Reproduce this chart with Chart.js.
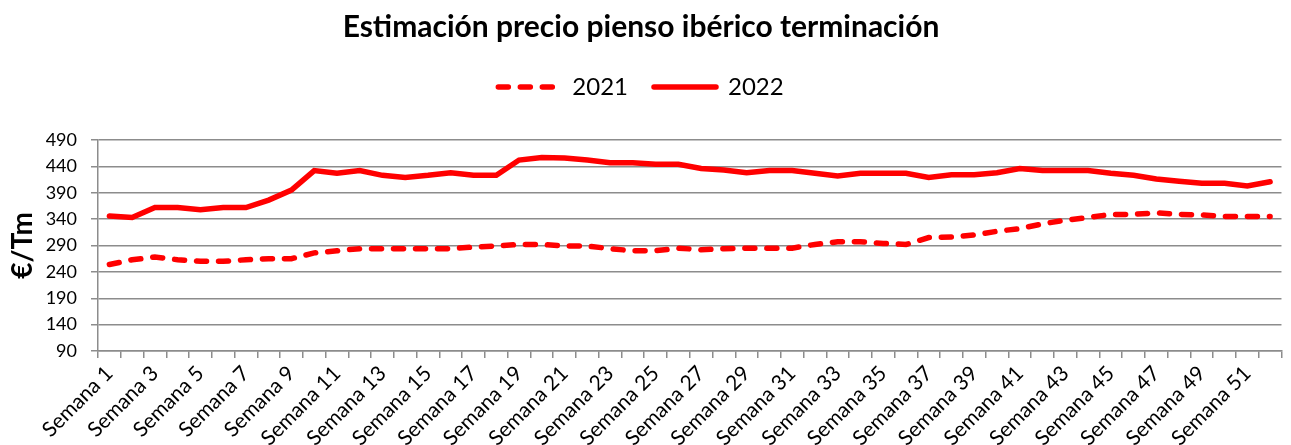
<!DOCTYPE html>
<html>
<head>
<meta charset="utf-8">
<script src="https://cdn.jsdelivr.net/npm/chart.js@4"></script>
<style>
  html, body { margin: 0; padding: 0; background: #fff; }
  #wrap { width: 1291px; height: 445px; }
</style>
</head>
<body>
<div id="wrap"><canvas id="chart"></canvas></div>
<script>
const weeks = ['Semana 1','Semana 2','Semana 3','Semana 4','Semana 5','Semana 6','Semana 7','Semana 8','Semana 9','Semana 10',
  'Semana 11','Semana 12','Semana 13','Semana 14','Semana 15','Semana 16','Semana 17','Semana 18','Semana 19','Semana 20',
  'Semana 21','Semana 22','Semana 23','Semana 24','Semana 25','Semana 26','Semana 27','Semana 28','Semana 29','Semana 30',
  'Semana 31','Semana 32','Semana 33','Semana 34','Semana 35','Semana 36','Semana 37','Semana 38','Semana 39','Semana 40',
  'Semana 41','Semana 42','Semana 43','Semana 44','Semana 45','Semana 46','Semana 47','Semana 48','Semana 49','Semana 50',
  'Semana 51','Semana 52'];

const precio2021 = [254, 263, 268, 263, 260, 260, 263, 265, 265, 276, 280, 284, 284, 284, 284, 284, 287, 289, 292, 292,
  289, 289, 284, 280, 280, 285, 282, 284, 285, 285, 285, 292, 297, 297, 294, 292, 305, 306, 310, 317,
  322, 331, 338, 343, 349, 349, 352, 349, 348, 345, 345, 345];

const precio2022 = [346, 343, 362, 362, 358, 362, 362, 376, 395, 432, 427, 432, 423, 419, 423, 428, 423, 423, 452, 457,
  456, 452, 447, 447, 444, 444, 436, 433, 428, 432, 432, 427, 422, 427, 427, 427, 419, 424, 424, 428,
  436, 432, 432, 432, 427, 423, 416, 412, 408, 408, 403, 411];

const yMin = 90, yMax = 490, yStep = 50;

const FONT = 'Lato, "Open Sans", sans-serif';
const grey = '#8c8c8c';

// give the legend some room underneath, like the excel original
const legendGap = {
  id: 'legendGap',
  beforeInit(chart) {
    const fit = chart.legend.fit;
    chart.legend.fit = function () {
      fit.call(this);
      this.height += 31;
    };
  }
};

new Chart(document.getElementById('chart'), {
  type: 'line',
  data: {
    labels: weeks,
    datasets: [
      {label: '2021', data: precio2021, borderColor: '#ff0000', backgroundColor: 'rgba(0,0,0,0)',
       borderWidth: 5.5, borderDash: [10, 12], borderCapStyle: 'round', pointRadius: 0, tension: 0},
      {label: '2022', data: precio2022, borderColor: '#ff0000', backgroundColor: 'rgba(0,0,0,0)',
       borderWidth: 5.5, borderCapStyle: 'round', pointRadius: 0, tension: 0}
    ]
  },
  options: {
    responsive: true,
    maintainAspectRatio: false,
    animation: false,
    layout: {padding: {left: 0, right: 9, top: 0, bottom: 0}},
    plugins: {
      title: {
        display: true,
        text: 'Estimación precio pienso ibérico terminación',
        color: '#000',
        font: {family: FONT, size: 30, weight: 'bold'},
        padding: {top: 9, bottom: 4}
      },
      legend: {
        position: 'top',
        labels: {
          color: '#000',
          font: {family: FONT, size: 24},
          usePointStyle: true,
          pointStyle: 'line',
          pointStyleWidth: 62,
          boxHeight: 10,
          padding: 26,
          // point style drops the dash, put it back from the dataset
          generateLabels: chart => {
            const items = Chart.defaults.plugins.legend.labels.generateLabels(chart);
            items.forEach(it => {
              const ds = chart.data.datasets[it.datasetIndex];
              it.lineDash = ds.borderDash || [];
              it.lineCap = 'round';
              it.lineWidth = ds.borderWidth;
            });
            return items;
          }
        }
      },
      tooltip: {enabled: false}
    },
    scales: {
      x: {
        offset: true,
        grid: {offset: true, drawOnChartArea: false, color: grey, lineWidth: 1.5, tickLength: 7},
        border: {color: grey, width: 1.5},
        ticks: {
          autoSkip: false, maxRotation: 45, minRotation: 45, color: '#000',
          font: {family: FONT, size: 21},
          callback: (v, i) => i % 2 === 0 ? weeks[i] : ''
        },
        afterFit: s => { s.height = 94; }
      },
      y: {
        min: yMin, max: yMax,
        grid: {color: grey, lineWidth: 1.5, tickLength: 7},
        border: {color: grey, width: 1.5},
        ticks: {stepSize: yStep, color: '#000', padding: 14, font: {family: FONT, size: 18}},
        title: {display: true, text: '€/Tm', color: '#000', font: {family: FONT, size: 28, weight: 'bold'}, padding: {top: 6, bottom: 0}},
        afterFit: s => { s.width = 98; }
      }
    }
  },
  plugins: [legendGap]
});
</script>
</body>
</html>
